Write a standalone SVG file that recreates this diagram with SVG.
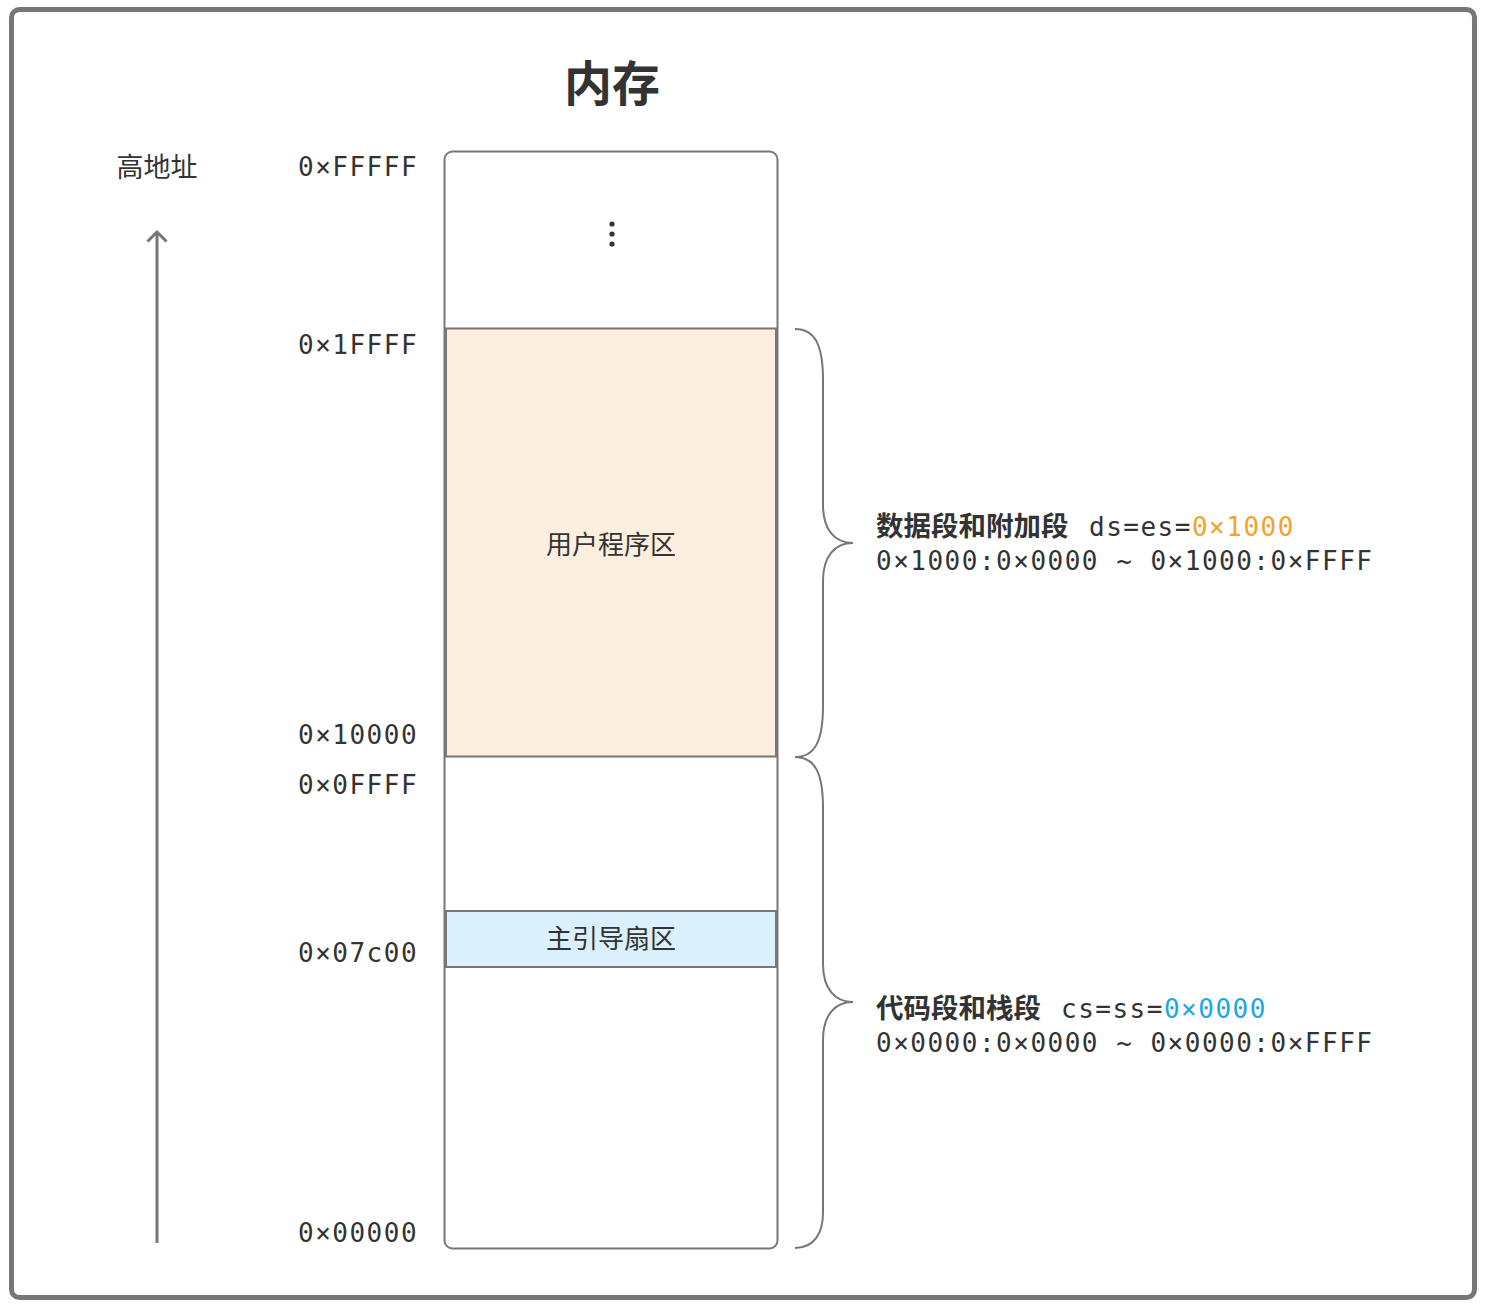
<svg xmlns="http://www.w3.org/2000/svg" width="1487" height="1311" viewBox="0 0 1487 1311">
<style>
.mono{font-family:"DejaVu Sans Mono","Liberation Mono",monospace;font-size:26px;letter-spacing:1.5px;fill:#333}
.cjk{font-family:"Noto Sans CJK SC","Noto Sans",sans-serif;fill:#333}
.gray{stroke:#777;fill:none}
</style>
<rect x="0" y="0" width="1487" height="1311" fill="#fff"/>
<rect id="frame" x="11.5" y="9.5" width="1463" height="1288" rx="8" fill="#fff" stroke="#777" stroke-width="5"/>
<text id="title" x="612" y="101" text-anchor="middle" class="cjk" font-size="48" font-weight="bold">内存</text>
<g id="axis">
<text x="157" y="177" text-anchor="middle" class="cjk" font-size="27">高地址</text>
<line x1="157" y1="1243" x2="157" y2="232" stroke="#777" stroke-width="3"/>
<path d="M147.5,241.5 L157,232 L166.5,241.5" fill="none" stroke="#777" stroke-width="3"/>
</g>
<g id="addresses">
<text class="mono" x="298" y="176">0×FFFFF</text>
<text class="mono" x="298" y="354">0×1FFFF</text>
<text class="mono" x="298" y="744">0×10000</text>
<text class="mono" x="298" y="794">0×0FFFF</text>
<text class="mono" x="298" y="962">0×07c00</text>
<text class="mono" x="298" y="1242">0×00000</text>
</g>
<g id="memory">
<rect x="444.5" y="151.5" width="333" height="1097" rx="8" fill="#fff" stroke="#777" stroke-width="2"/>
<circle cx="612" cy="224" r="2.6" fill="#333"/>
<circle cx="612" cy="234" r="2.6" fill="#333"/>
<circle cx="612" cy="244" r="2.6" fill="#333"/>
</g>
<g id="user-area">
<rect x="446" y="328.5" width="330" height="428" fill="#FDEFDF" stroke="#777" stroke-width="2"/>
<text x="611" y="554" text-anchor="middle" class="cjk" font-size="26">用户程序区</text>
</g>
<g id="boot-sector">
<rect x="446" y="911" width="330" height="56" fill="#DAF0FC" stroke="#777" stroke-width="2"/>
<text x="611" y="948" text-anchor="middle" class="cjk" font-size="26">主引导扇区</text>
</g>
<g id="connectors">
<path class="gray" stroke-width="2" d="M795,329 C815,329 823,345 823,380 L823,505 C823,530 835,543 853,543 C835,543 823,556 823,581 L823,706 C823,741 815,757 795,757"/>
<path class="gray" stroke-width="2" d="M795,757 C815,757 823,773 823,808 L823,964 C823,989 835,1002 853,1002 C835,1002 823,1015 823,1040 L823,1213 C823,1232 815,1248 795,1248"/>
</g>
<g id="data-label">
<text x="876" y="536" class="cjk" font-size="27.5" font-weight="bold">数据段和附加段</text>
<text class="mono" x="1089" y="536">ds=es=<tspan fill="#F7A128">0×1000</tspan></text>
<text class="mono" x="876" y="570">0×1000:0×0000 ~ 0×1000:0×FFFF</text>
</g>
<g id="code-label">
<text x="876" y="1018" class="cjk" font-size="27.5" font-weight="bold">代码段和栈段</text>
<text class="mono" x="1061" y="1018">cs=ss=<tspan fill="#1AA7E8">0×0000</tspan></text>
<text class="mono" x="876" y="1052">0×0000:0×0000 ~ 0×0000:0×FFFF</text>
</g>
</svg>
